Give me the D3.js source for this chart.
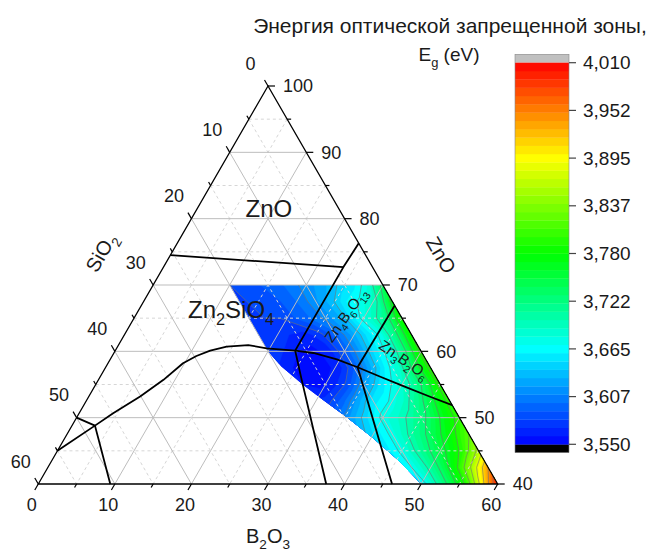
<!DOCTYPE html>
<html>
<head>
<meta charset="utf-8">
<script src="https://cdn.jsdelivr.net/npm/d3@7"></script>
<style>
  body { margin: 0; background: #fff; }
  svg { font-family: "Liberation Sans", Arial, sans-serif; }
</style>
</head>
<body>
<svg id="chart" width="657" height="552"></svg>
<script>
// ---- Axis ticks (mol.%) of the partial ZnO–SiO2–B2O3 triangle ----
const znoTicks  = [40, 45, 50, 55, 60, 65, 70, 75, 80, 85, 90, 95, 100];
const sio2Ticks = [0, 5, 10, 15, 20, 25, 30, 35, 40, 45, 50, 55, 60];
const b2o3Ticks = [0, 5, 10, 15, 20, 25, 30, 35, 40, 45, 50, 55, 60];
const gridSteps = [5, 10, 15, 20, 25, 30, 35, 40, 45, 50, 55];

// ---- Band gap Eg (eV) on a composition grid ----
// rows: ZnO content, columns: SiO2 content (B2O3 = 100 - ZnO - SiO2)
const gridZnO  = [40, 42.5, 45, 47.5, 50, 52.5, 55, 57.5, 60, 62.5, 65, 67.5, 70];
const gridSiO2 = [0, 2, 4, 6, 8, 10, 12, 14, 16, 18, 20];
const egValues = [
  [4.00, 3.90, 3.80, 3.745, 3.70, 3.655, 3.64, 3.625, 3.61, 3.60, 3.59],
  [3.94, 3.86, 3.79, 3.74, 3.70, 3.67, 3.65, 3.635, 3.62, 3.61, 3.60],
  [3.86, 3.80, 3.765, 3.735, 3.705, 3.675, 3.655, 3.64, 3.625, 3.61, 3.60],
  [3.82, 3.785, 3.755, 3.725, 3.70, 3.675, 3.655, 3.635, 3.615, 3.60, 3.59],
  [3.80, 3.77, 3.735, 3.71, 3.69, 3.675, 3.65, 3.625, 3.60, 3.585, 3.58],
  [3.80, 3.76, 3.72, 3.69, 3.67, 3.655, 3.625, 3.595, 3.575, 3.57, 3.57],
  [3.80, 3.74, 3.70, 3.675, 3.65, 3.62, 3.585, 3.565, 3.555, 3.56, 3.57],
  [3.80, 3.745, 3.69, 3.66, 3.625, 3.59, 3.565, 3.555, 3.553, 3.56, 3.57],
  [3.80, 3.73, 3.68, 3.655, 3.62, 3.59, 3.565, 3.557, 3.56, 3.57, 3.578],
  [3.79, 3.725, 3.675, 3.65, 3.62, 3.595, 3.575, 3.565, 3.57, 3.575, 3.58],
  [3.79, 3.72, 3.69, 3.663, 3.63, 3.613, 3.60, 3.59, 3.58, 3.58, 3.575],
  [3.77, 3.70, 3.675, 3.66, 3.635, 3.618, 3.603, 3.592, 3.585, 3.582, 3.578],
  [3.74, 3.68, 3.655, 3.64, 3.625, 3.615, 3.605, 3.595, 3.59, 3.585, 3.58]
];

// Outline of the measured compositions [ZnO, SiO2]
const dataRegion = [
  [70, 20], [60, 20], [57.7, 19.4], [54.9, 17.9], [52.7, 16.5], [50.1, 14.7],
  [46.9, 12.8], [43.4, 11.1], [40, 10], [40, 0], [70, 0]
];

// Phase-field boundaries [ZnO, SiO2, B2O3]
const boundaryZnO = [[74.5, 25.5, 0], [72.7, 3.8, 23.5]];
const boundaryZn4B6O13Left = [[76.3, 0, 23.7], [72.7, 3.8, 23.5], [60.1, 16.4, 23.5]];
const boundaryLiquidus = [
  [45, 55, 0], [48.8, 48.2, 3.0], [50.65, 44.9, 4.45], [53.2, 40.1, 6.7],
  [55.7, 35.8, 8.5], [58.2, 32.0, 9.8], [59.3, 29.7, 11.0], [60.1, 27.5, 12.4],
  [60.7, 25.05, 14.25], [60.95, 22.1, 16.95], [60.45, 19.95, 19.6], [60.1, 16.4, 23.5],
  [59.75, 14.2, 26.05], [58.8, 11.6, 29.6], [57.6, 9.5, 32.9], [56.2, 7.3, 36.5],
  [54.8, 5.0, 40.2], [53.15, 2.25, 44.6], [51.9, 0, 48.1]
];
const boundarySiO2Corner = [[50.0, 50.0, 0], [48.8, 48.2, 3.0], [40, 50.6, 9.4]];
const boundaryLowerMid = [[60.1, 16.4, 23.5], [55.7, 17.75, 26.55], [40, 22.4, 37.6]];
const boundaryZn3B2O6Upper = [[57.6, 9.5, 32.9], [66.9, 0, 33.1]];
const boundaryLowerRight = [[57.6, 9.5, 32.9], [54.7, 10.2, 35.1], [40, 13.8, 46.2]];
const boundaries = [boundaryZnO, boundaryZn4B6O13Left, boundaryLiquidus, boundarySiO2Corner,
                    boundaryLowerMid, boundaryZn3B2O6Upper, boundaryLowerRight];

// Phase labels: text parts ([text, subscript?]), anchor composition, rotation
const phaseLabels = [
  { parts: [["ZnO", false]], at: [80.25, 9.75, 10.0], size: 24, anchor: "middle", rotate: 0 },
  { parts: [["Zn", false], ["2", true], ["SiO", false], ["4", true]], at: [65.0, 27.95, 7.05], size: 24, anchor: "start", rotate: 0 },
  { parts: [["Zn", false], ["4", true], ["B", false], ["6", true], ["O", false], ["13", true]], at: [65.0, 6.8, 28.2], size: 15, anchor: "middle", rotate: -55, mid: true },
  { parts: [["Zn", false], ["3", true], ["B", false], ["2", true], ["O", false], ["6", true]], at: [58.1, 3.6, 38.3], size: 15, anchor: "middle", rotate: 35, mid: true }
];

// Colour scale
const egMin = 3.55, egMax = 4.01, egStep = 0.01;
const colorbarTicks  = [3.55, 3.6075, 3.665, 3.7225, 3.78, 3.8375, 3.895, 3.9525, 4.01];
const colorbarLabels = ["3,550", "3,607", "3,665", "3,722", "3,780", "3,837", "3,895", "3,952", "4,010"];
const contourLineLevels = [3.58, 3.61, 3.64, 3.67, 3.70, 3.73, 3.76, 3.79, 3.82, 3.85, 3.88, 3.91, 3.94, 3.97];

// ---------------------------------------------------------------
const svg = d3.select("#chart");

// Triangle geometry: x follows (B2O3 - SiO2), y follows ZnO
const xScale = d3.scaleLinear().domain([-60, 60]).range([38.3, 497.7]);
const yScale = d3.scaleLinear().domain([40, 100]).range([484, 86]);
const proj = (z, s, b) => [xScale(b - s), yScale(z)];

const rainbow = d3.scaleLinear()
  .domain([0, 0.25, 0.5, 0.75, 1])
  .range(["#0000ff", "#00ffff", "#00ff00", "#ffff00", "#ff0000"]);
const egColor = v => rainbow((v - egMin) / (egMax - egMin));

function richText(sel, parts, size) {
  let shifted = 0;
  parts.forEach(([t, sub]) => {
    const want = sub ? size * 0.3 : 0;
    sel.append("tspan")
      .attr("dy", want - shifted)
      .style("font-size", (sub ? size * 0.68 : size) + "px")
      .text(t);
    shifted = want;
  });
}

// ---- clip to the measured region ----
svg.append("defs").append("clipPath").attr("id", "dataClip")
  .append("path")
  .attr("d", d3.line()(dataRegion.map(([z, s]) => proj(z, s, 100 - z - s))) + "Z");

// ---- filled contours ----
const nS = gridSiO2.length, nZ = gridZnO.length;
const gxToS = d3.scaleLinear().domain([0.5, nS - 0.5]).range([gridSiO2[0], gridSiO2[nS - 1]]);
const gyToZ = d3.scaleLinear().domain([0.5, nZ - 0.5]).range([gridZnO[0], gridZnO[nZ - 1]]);
const gridPath = d3.geoPath(d3.geoTransform({
  point(gx, gy) {
    const s = gxToS(gx), z = gyToZ(gy);
    const p = proj(z, s, 100 - z - s);
    this.stream.point(p[0], p[1]);
  }
}));
const flat = egValues.flat();
const bandLevels = d3.range(Math.round((egMax - egMin) / egStep)).map(i => egMin + i * egStep);
const bands = d3.contours().size([nS, nZ]).thresholds(bandLevels)(flat);

const field = svg.append("g").attr("clip-path", "url(#dataClip)");
field.selectAll("path.band").data(bands).join("path")
  .attr("class", "band")
  .attr("d", gridPath)
  .attr("fill", d => egColor(d.value + egStep / 2))
  .attr("stroke", d => egColor(d.value + egStep / 2))
  .attr("stroke-width", 0.4);

// ---- grid ----
const gridG = svg.append("g");
const gridLines = [];
gridSteps.forEach(v => {
  const major = v % 10 === 0;
  gridLines.push({ major, a: proj(100 - v, v, 0), b: proj(40, v, 60 - v) });        // SiO2 = v
  gridLines.push({ major, a: proj(100 - v, 0, v), b: proj(40, 60 - v, v) });        // B2O3 = v
  gridLines.push({ major, a: proj(40 + v, 60 - v, 0), b: proj(40 + v, 0, 60 - v) }); // ZnO = 40+v
});
gridG.selectAll("line").data(gridLines).join("line")
  .attr("x1", d => d.a[0]).attr("y1", d => d.a[1])
  .attr("x2", d => d.b[0]).attr("y2", d => d.b[1])
  .attr("stroke", d => d.major ? "#bdbdbd" : "#d6d6d6")
  .attr("stroke-width", 1)
  .attr("stroke-dasharray", d => d.major ? null : "3,3");

// ---- contour lines ----
const isoLines = d3.contours().size([nS, nZ]).thresholds(contourLineLevels)(flat);
svg.append("g").attr("clip-path", "url(#dataClip)")
  .selectAll("path").data(isoLines).join("path")
  .attr("d", gridPath)
  .attr("fill", "none")
  .attr("stroke", "#707070")
  .attr("stroke-opacity", 0.75)
  .attr("stroke-width", 0.8);

// ---- triangle frame ----
const corners = [proj(100, 0, 0), proj(40, 60, 0), proj(40, 0, 60)];
svg.append("path")
  .attr("d", d3.line()(corners) + "Z")
  .attr("fill", "none").attr("stroke", "#000").attr("stroke-width", 1.3);

// ---- phase boundaries ----
const bLine = d3.line().x(d => proj(...d)[0]).y(d => proj(...d)[1]);
svg.append("g").selectAll("path").data(boundaries).join("path")
  .attr("d", bLine)
  .attr("fill", "none").attr("stroke", "#000").attr("stroke-width", 1.8)
  .attr("stroke-linejoin", "round");

// ---- ticks and tick labels ----
const axisG = svg.append("g").attr("fill", "#1a1a1a").style("font-size", "18px");
const axes = [
  { ticks: sio2Ticks, pos: v => proj(100 - v, v, 0), dir: [-0.5, -0.866], lab: [-17.5, -22.5], anchor: "middle" },
  { ticks: b2o3Ticks, pos: v => proj(40, 60 - v, v), dir: [-0.5, 0.866], lab: [-6.5, 21], anchor: "middle" },
  { ticks: znoTicks,  pos: v => proj(v, 0, 100 - v), dir: [1, 0], lab: [15, 0], anchor: "start" }
];
axes.forEach(ax => {
  ax.ticks.forEach(v => {
    const p = ax.pos(v);
    const major = v % 10 === 0;
    const len = major ? 7 : 4;
    axisG.append("line")
      .attr("x1", p[0]).attr("y1", p[1])
      .attr("x2", p[0] + ax.dir[0] * len).attr("y2", p[1] + ax.dir[1] * len)
      .attr("stroke", "#000").attr("stroke-width", 1.2);
    if (major) {
      axisG.append("text")
        .attr("x", p[0] + ax.lab[0]).attr("y", p[1] + ax.lab[1])
        .attr("dy", "0.35em")
        .attr("text-anchor", ax.anchor)
        .text(v);
    }
  });
});

// ---- axis titles ----
const titleG = svg.append("g").attr("fill", "#1a1a1a");
const tB = titleG.append("text").attr("x", 268).attr("y", 543).attr("text-anchor", "middle");
richText(tB, [["B", false], ["2", true], ["O", false], ["3", true]], 20);
const tS = titleG.append("text").attr("text-anchor", "middle")
  .attr("transform", "translate(107,256) rotate(-60)").attr("dy", "0.35em");
richText(tS, [["SiO", false], ["2", true]], 20);
titleG.append("text").attr("text-anchor", "middle")
  .attr("transform", "translate(441,255) rotate(60)").attr("dy", "0.35em")
  .style("font-size", "20px").text("ZnO");

// ---- phase labels ----
phaseLabels.forEach(l => {
  const p = proj(...l.at);
  const t = svg.append("text").attr("fill", "#1a1a1a")
    .attr("text-anchor", l.anchor)
    .attr("transform", `translate(${p[0]},${p[1]}) rotate(${l.rotate})`);
  t.append("tspan").attr("dy", l.mid ? l.size * 0.35 : 0);
  richText(t, l.parts, l.size);
});

// ---- colour bar ----
const cbX = 515, cbW = 54, overH = 8.4;
const cbScale = d3.scaleLinear().domain([egMin, egMax]).range([444.3, 62.7]);
const cb = svg.append("g");
cb.append("rect").attr("x", cbX).attr("width", cbW)
  .attr("y", cbScale(egMax) - overH).attr("height", overH).attr("fill", "#c0c0c0");
cb.append("rect").attr("x", cbX).attr("width", cbW)
  .attr("y", cbScale(egMin)).attr("height", overH).attr("fill", "#000");
cb.selectAll("rect.lvl").data(bandLevels).join("rect")
  .attr("class", "lvl")
  .attr("x", cbX).attr("width", cbW)
  .attr("y", d => cbScale(d + egStep))
  .attr("height", d => cbScale(d) - cbScale(d + egStep) + 0.3)
  .attr("fill", d => egColor(d + egStep / 2));
cb.append("rect").attr("x", cbX).attr("width", cbW)
  .attr("y", cbScale(egMax) - overH).attr("height", cbScale(egMin) - cbScale(egMax) + 2 * overH)
  .attr("fill", "none").attr("stroke", "#888").attr("stroke-width", 0.6);
colorbarTicks.forEach((v, i) => {
  const y = cbScale(v);
  cb.append("line").attr("x1", cbX + cbW).attr("x2", cbX + cbW + 7)
    .attr("y1", y).attr("y2", y).attr("stroke", "#444").attr("stroke-width", 1.2);
  cb.append("text").attr("x", 583).attr("y", y).attr("dy", "0.35em")
    .attr("fill", "#1a1a1a").style("font-size", "19px").text(colorbarLabels[i]);
});

// ---- colour bar title ----
svg.append("text").attr("x", 450).attr("y", 33).attr("text-anchor", "middle")
  .attr("fill", "#1a1a1a").style("font-size", "21px")
  .text("Энергия оптической запрещенной зоны,");
const eg = svg.append("text").attr("x", 449).attr("y", 61).attr("text-anchor", "middle")
  .attr("fill", "#1a1a1a");
richText(eg, [["E", false], ["g", true], [" (eV)", false]], 19);
</script>
</body>
</html>
